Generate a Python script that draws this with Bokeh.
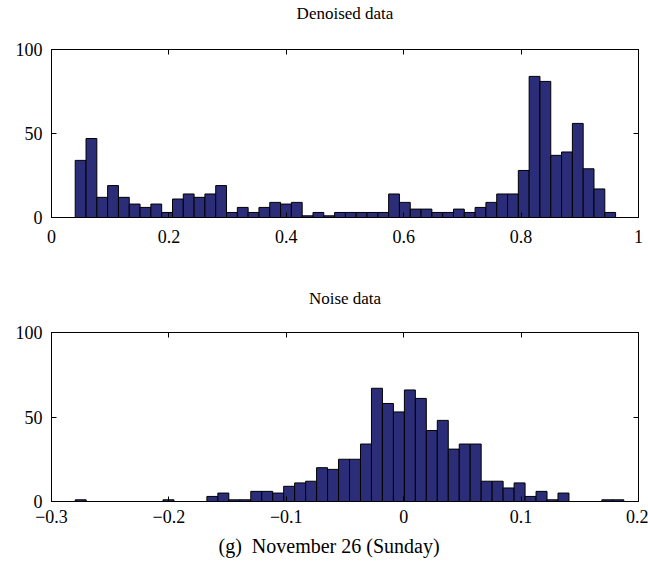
import numpy as np
from bokeh.plotting import figure
from bokeh.models import FixedTicker, LinearAxis, Title, Range1d, ColumnDataSource
from bokeh.layouts import column
from bokeh.embed import file_html
from bokeh.resources import INLINE

# ---- data ----
denoised_title = "Denoised data"
denoised_lo, denoised_hi = 0.0404, 0.961
denoised_counts = [34, 47, 12, 19, 12, 8, 6, 8, 3, 11,
                   14, 12, 14, 19, 3, 6, 3, 6, 9, 8,
                   9, 1, 3, 1, 3, 3, 3, 3, 3, 14,
                   9, 5, 5, 3, 3, 5, 3, 6, 9, 14,
                   14, 28, 84, 81, 37, 39, 56, 29, 17, 3]
denoised_xticks = [0, 0.2, 0.4, 0.6, 0.8, 1]
denoised_xlabels = ["0", "0.2", "0.4", "0.6", "0.8", "1"]

noise_title = "Noise data"
noise_lo, noise_hi = -0.2798, 0.1875
noise_counts = [1, 0, 0, 0, 0, 0, 0, 0, 1, 0,
                0, 0, 3, 5, 1, 1, 6, 6, 5, 9,
                11, 12, 20, 19, 25, 25, 34, 67, 58, 53,
                66, 61, 42, 48, 31, 34, 34, 12, 12, 8,
                11, 3, 6, 1, 5, 0, 0, 0, 1, 1]
noise_xticks = [-0.3, -0.2, -0.1, 0, 0.1, 0.2]
noise_xlabels = ["\u22120.3", "\u22120.2", "\u22120.1", "0", "0.1", "0.2"]

yticks = [0, 50, 100]
ylabels = ["0", "50", "100"]
caption = "(g)\u2002November 26 (Sunday)"

FONT = "Liberation Serif"
BAR_FILL = "#2b2d78"
TICK_SIZE = "18px"


def style_axis(ax, ticks, labels, show_labels=True, standoff=8):
    ax.ticker = FixedTicker(ticks=ticks)
    ax.major_tick_in = 5
    ax.major_tick_out = 0
    ax.minor_tick_line_color = None
    ax.axis_line_color = "black"
    ax.axis_line_width = 1
    ax.major_tick_line_color = "black"
    ax.major_label_text_font = FONT
    if show_labels:
        ax.major_label_overrides = {t: l for t, l in zip(ticks, labels)}
        ax.major_label_text_color = "black"
        ax.major_label_text_font_size = TICK_SIZE
    else:
        ax.major_label_text_color = None
        ax.major_label_text_font_size = "1px"
    ax.major_label_standoff = standoff


def make_hist(title, lo, hi, counts, xticks, xlabels, xr, height, mb_top, mb_bottom,
              xstandoff, title_gap):
    edges = np.linspace(lo, hi, len(counts) + 1)
    src = ColumnDataSource(dict(left=edges[:-1], right=edges[1:],
                                top=counts, bottom=[0] * len(counts)))
    p = figure(width=648, height=height, x_range=Range1d(*xr), y_range=Range1d(0, 100),
               output_backend="svg", toolbar_location=None, title=None,
               min_border_left=51, min_border_right=10,
               min_border_top=mb_top, min_border_bottom=mb_bottom)
    p.quad(left="left", right="right", top="top", bottom="bottom", source=src,
           fill_color=BAR_FILL, line_color="black", line_width=1)
    p.xgrid.grid_line_color = None
    p.ygrid.grid_line_color = None
    p.outline_line_color = "black"
    p.background_fill_color = "white"
    p.border_fill_color = "white"
    style_axis(p.xaxis[0], xticks, xlabels, standoff=xstandoff)
    style_axis(p.yaxis[0], yticks, ylabels, standoff=9)
    top_ax = LinearAxis()
    style_axis(top_ax, xticks, xlabels, show_labels=False, standoff=0)
    p.add_layout(top_ax, "above")
    right_ax = LinearAxis()
    style_axis(right_ax, yticks, ylabels, show_labels=False, standoff=0)
    p.add_layout(right_ax, "right")
    # panel title, drawn as the single label of an outer top axis at the range's centre
    mid = (xr[0] + xr[1]) / 2
    title_ax = LinearAxis(ticker=FixedTicker(ticks=[mid]),
                          major_label_overrides={mid: title},
                          axis_line_color=None, major_tick_line_color=None,
                          minor_tick_line_color=None,
                          major_tick_in=0, major_tick_out=0,
                          major_label_standoff=title_gap,
                          major_label_text_font=FONT,
                          major_label_text_font_size="17px",
                          major_label_text_color="black")
    p.add_layout(title_ax, "above")
    return p


p1 = make_hist(denoised_title, denoised_lo, denoised_hi, denoised_counts,
               denoised_xticks, denoised_xlabels, (0, 1), 280, 49, 63, 12, 27)
p2 = make_hist(noise_title, noise_lo, noise_hi, noise_counts,
               noise_xticks, noise_xlabels, (-0.3, 0.2), 292, 52, 71, 8, 25)
cap = Title(text=caption, align="left", offset=167, text_font=FONT,
            text_font_size="20px", text_font_style="normal", text_color="black",
            standoff=15)
p2.add_layout(cap, "below")

layout = column(p1, p2, spacing=0)
open("out.html", "w").write(file_html(layout, INLINE))
